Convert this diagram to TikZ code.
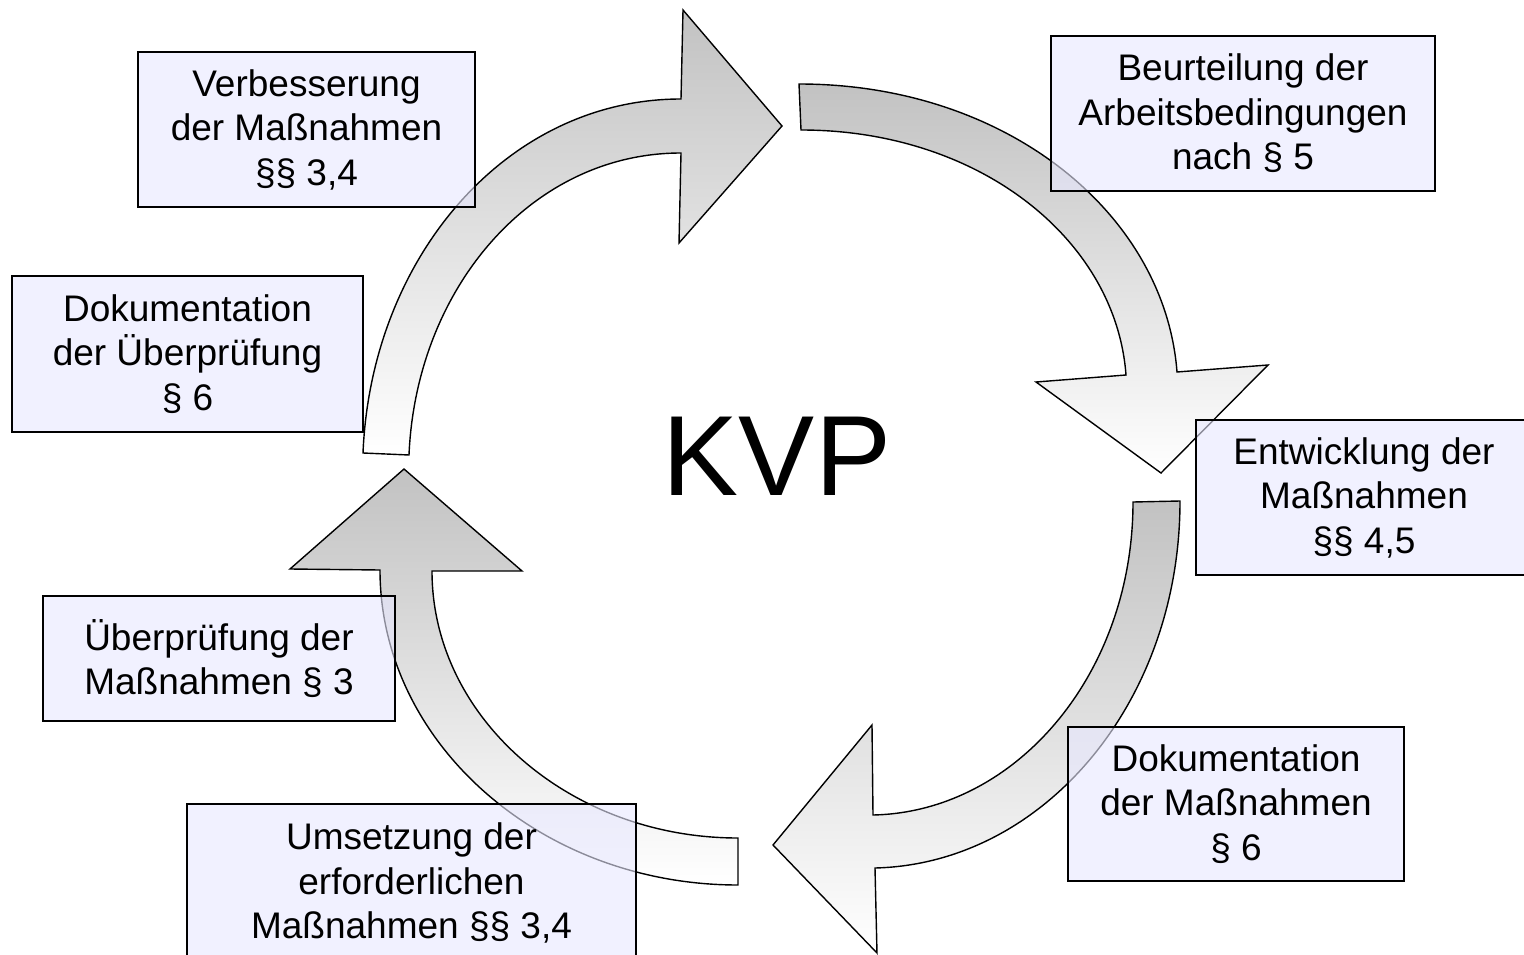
\documentclass[tikz,border=0pt]{standalone}
\usepackage{fontspec}
\setmainfont{Liberation Sans}
\definecolor{boxfill}{RGB}{232,232,255}
\definecolor{arrowtop}{RGB}{194,194,194}
\tikzset{
  cyclearrow/.style={draw=black, line width=1.4pt, line join=miter, top color=arrowtop, bottom color=white},
  stepbox/.style={draw=black, line width=1.4pt, fill=boxfill, fill opacity=0.6, text opacity=1,
    align=center, inner sep=0pt, font=\fontsize{37}{44.5}\selectfont},
}
\begin{document}
\begin{tikzpicture}[x=1pt,y=-1pt]
\useasboundingbox (0,0) rectangle (1524,955);
% arrows
\path[cyclearrow] (363,453) .. controls (371,258) and (506,99) .. (681,99) -- (683,10) -- (782,126) -- (679,243) -- (681,153) .. controls (531,153) and (416,289) .. (409,455) -- cycle;
\path[cyclearrow] (799,84) .. controls (1007,84) and (1165,214) .. (1177,372) -- (1268,365) -- (1161,473) -- (1036,382) -- (1126,375) .. controls (1116,240) and (980,130) .. (801,130) -- cycle;
\path[cyclearrow] (1180,501) .. controls (1180,703) and (1043,864) .. (875,868) -- (877,953) -- (773,845) -- (872,725) -- (873,815) .. controls (1016,812) and (1133,674) .. (1133,502) -- cycle;
\path[cyclearrow] (738,885) .. controls (541,885) and (380,743) .. (380,570) -- (290,569) -- (404,469) -- (522,571) -- (432,571) .. controls (432,718) and (570,838) .. (738,838) -- cycle;
% centre label
\node[inner sep=0pt, font=\fontsize{114}{120}\selectfont] (kvp) at (777,456) {KVP};
% boxes
\node[stepbox, minimum width=337pt, minimum height=155pt] (verb) at (306.5,129.5) {Verbesserung\\der Maßnahmen\\§§ 3,4};
\node[stepbox, minimum width=384pt, minimum height=155pt] (beur) at (1243,113.5) {Beurteilung der\\Arbeitsbedingungen\\nach § 5};
\node[stepbox, minimum width=351pt, minimum height=156pt] (doku) at (187.5,354) {Dokumentation\\der Überprüfung\\§ 6};
\node[stepbox, minimum width=336pt, minimum height=155pt] (entw) at (1364,497.5) {Entwicklung der\\Maßnahmen\\§§ 4,5};
\node[stepbox, minimum width=352pt, minimum height=125pt] (uebe) at (219,658.5) {Überprüfung der\\Maßnahmen § 3};
\node[stepbox, minimum width=336pt, minimum height=154pt] (dokm) at (1236,804) {Dokumentation\\der Maßnahmen\\§ 6};
\node[stepbox, minimum width=449pt, minimum height=158pt] (umse) at (411.5,883) {Umsetzung der\\erforderlichen\\Maßnahmen §§ 3,4};
\end{tikzpicture}
\end{document}
